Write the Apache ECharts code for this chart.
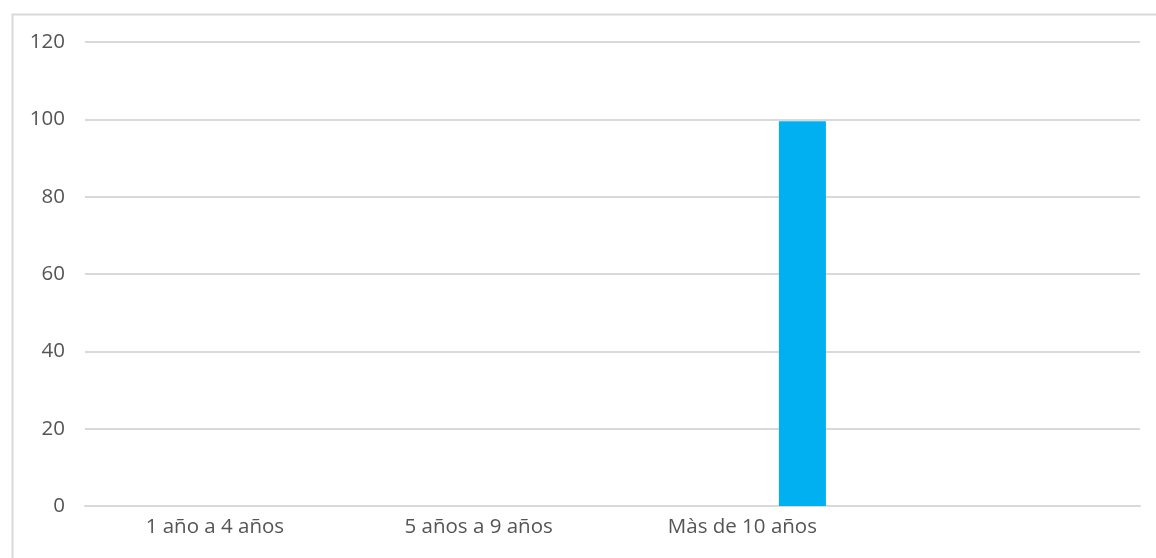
<!DOCTYPE html>
<html>
<head>
<meta charset="utf-8">
<script src="https://cdn.jsdelivr.net/npm/echarts@6/dist/echarts.min.js"></script>
<style>
html,body{margin:0;padding:0;background:#fff;}
#c{width:1156px;height:558px;}
</style>
</head>
<body>
<div id="c"></div>
<script>
const categories = ['1 año a 4 años', '5 años a 9 años', 'Màs de 10 años', ''];
const serieVacia = [null, null, null, null];
const serieValores = [null, null, 99.5, null];
const yTicks = { min: 0, max: 120, interval: 20 };

const chart = echarts.init(document.getElementById('c'), null, { renderer: 'canvas' });
const grey = '#d9d9d9';
const txt = '#555555';
chart.setOption({
  animation: false,
  backgroundColor: '#ffffff',
  graphic: [{
    type: 'rect',
    left: 10, top: 12,
    shape: { width: 1170, height: 570 },
    style: { fill: 'none', stroke: grey, lineWidth: 2 },
    silent: true
  }],
  grid: { left: 85, right: 16, top: 42, bottom: 52, containLabel: false },
  xAxis: {
    type: 'category',
    data: categories,
    axisTick: { show: false },
    axisLine: { show: true, lineStyle: { color: grey, width: 2 } },
    axisLabel: { color: txt, fontFamily: 'Open Sans', fontSize: 20.5, margin: 11, interval: 0, padding: [0, 4, 0, 0] },
    splitLine: { show: false }
  },
  yAxis: {
    type: 'value',
    min: yTicks.min, max: yTicks.max, interval: yTicks.interval,
    axisLine: { show: false },
    axisTick: { show: false },
    axisLabel: { color: txt, fontFamily: 'Open Sans', fontSize: 20.5, margin: 20, padding: [6, 0, 0, 0] },
    splitLine: { show: true, lineStyle: { color: grey, width: 2 } }
  },
  series: [
    { type: 'bar', data: serieVacia, barWidth: 47, barGap: '147%', itemStyle: { color: '#ed7d31' } },
    { type: 'bar', data: serieValores, barWidth: 47, itemStyle: { color: '#00b0f0' } }
  ]
});
</script>
</body>
</html>
